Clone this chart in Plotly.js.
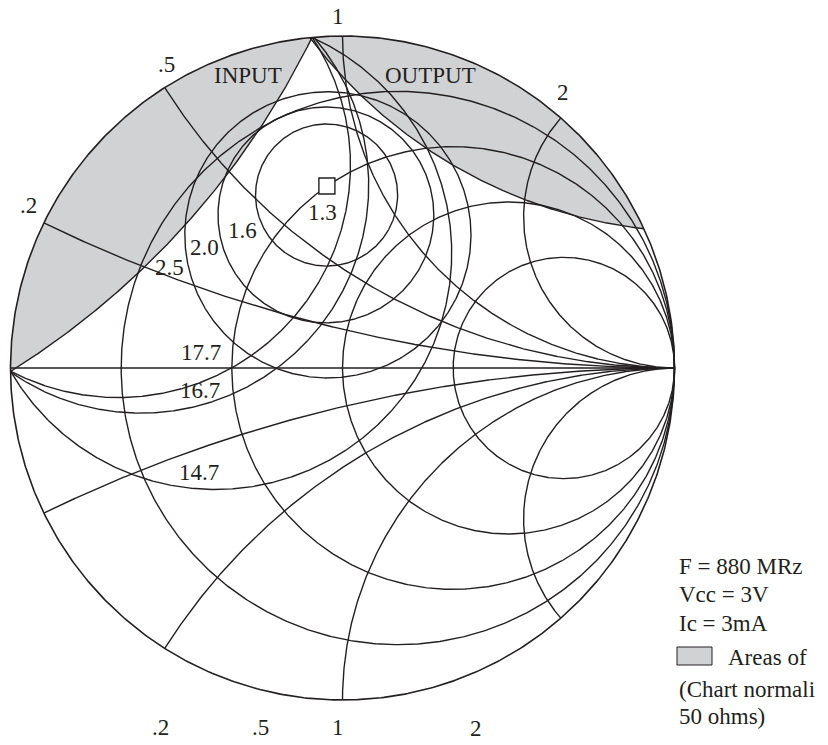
<!DOCTYPE html>
<html><head><meta charset="utf-8">
<script src="https://cdn.plot.ly/plotly-3.0.1.min.js"></script>
<style>html,body{margin:0;padding:0;background:#fff;overflow:hidden}</style>
</head><body><div id="chart" style="width:828px;height:745px"></div>
<script>
// ---- data (reflection-coefficient plane) ----
const resistanceValues = [0.2, 0.5, 1, 2];
const resistanceLabels = ['.2', '.5', '1', '2'];
const reactanceValues = [0.23, 0.55, 1, 2.2];     // arcs as drawn in the figure
const reactanceLabels = ['.2', '.5', '1', '2'];
const noiseLabels = ['1.6', '2.0', '2.5'];
const noiseCenterRe = [-0.048, -0.050, -0.044];
const noiseCenterIm = [0.521, 0.461, 0.401];
const noiseRadius = [0.214, 0.325, 0.431];
const nfMinLabel = '1.3';
const gammaOptRe = [-0.047];
const gammaOptIm = [0.548];
const gainLabels = ['17.7', '16.7', '14.7'];
const gainCenterRe = [-0.676, -0.607, -0.383];
const gainCenterIm = [0.611, 0.550, 0.346];
const gainRadius = [0.700, 0.686, 0.712];
const stabilityLabels = ['INPUT', 'OUTPUT'];
const stabilityCenterRe = [-2.309, 1.074];
const stabilityCenterIm = [2.084, 1.877];
const stabilityRadius = [2.47, 1.467];
const infoLines = ['F = 880 MRz', 'Vcc = 3V', 'Ic = 3mA'];
const legendText = 'Areas of';
const noteLines = ['(Chart normali', '50 ohms)'];

// ---- geometry helpers ----
const INK = '#231f20', GRAY = 'rgb(209,210,212)';
const CX = 342.5, CY = 368, RP = 332;           // chart centre / radius in page pixels
const gx = px => (px - CX) / RP, gy = py => (CY - py) / RP;

function intersections(c1x, c1y, r1, c2x, c2y, r2) {
  const dx = c2x - c1x, dy = c2y - c1y, d = Math.hypot(dx, dy);
  if (d >= r1 + r2 || d <= Math.abs(r1 - r2)) return null;
  const a = (r1 * r1 - r2 * r2 + d * d) / (2 * d);
  const h = Math.sqrt(Math.max(0, r1 * r1 - a * a));
  const px = c1x + a * dx / d, py = c1y + a * dy / d;
  return [[px - h * dy / d, py + h * dx / d], [px + h * dy / d, py - h * dx / d]];
}
// points of circle 1 that lie inside circle 2 (ccw around circle 1)
function arcInside(c1x, c1y, r1, c2x, c2y, r2, n) {
  n = n || 700;
  const pts = intersections(c1x, c1y, r1, c2x, c2y, r2);
  let a0 = 0, a1 = 2 * Math.PI;
  if (pts) {
    const p = pts.map(q => Math.atan2(q[1] - c1y, q[0] - c1x));
    let s = p[0], e = p[1];
    if (e <= s) e += 2 * Math.PI;
    const m = (s + e) / 2;
    const mx = c1x + r1 * Math.cos(m), my = c1y + r1 * Math.sin(m);
    if (Math.hypot(mx - c2x, my - c2y) <= r2) { a0 = s; a1 = e; }
    else { a0 = e; a1 = s + 2 * Math.PI; }
  }
  const x = [], y = [];
  for (let i = 0; i <= n; i++) {
    const t = a0 + (a1 - a0) * i / n;
    x.push(c1x + r1 * Math.cos(t)); y.push(c1y + r1 * Math.sin(t));
  }
  return {x, y};
}
const lineStyle = w => ({color: INK, width: w || 1.4});
const traces = [];
function addCircle(cx, cy, r, w) {
  const a = arcInside(cx, cy, r, 0, 0, 1.0000001);
  traces.push({type: 'scatter', mode: 'lines', x: a.x, y: a.y, line: lineStyle(w), hoverinfo: 'skip'});
}

// shaded instability areas: intersection of stability disk and unit disk
for (let k = 0; k < stabilityLabels.length; k++) {
  const cx = stabilityCenterRe[k], cy = stabilityCenterIm[k], r = stabilityRadius[k];
  const A = arcInside(cx, cy, r, 0, 0, 1);
  const B = arcInside(0, 0, 1, cx, cy, r);
  let bx = B.x.slice(), by = B.y.slice();
  const endA = [A.x[A.x.length - 1], A.y[A.y.length - 1]];
  if (Math.hypot(bx[0] - endA[0], by[0] - endA[1]) > Math.hypot(bx[bx.length - 1] - endA[0], by[by.length - 1] - endA[1])) {
    bx.reverse(); by.reverse();
  }
  traces.push({type: 'scatter', mode: 'lines', x: A.x.concat(bx), y: A.y.concat(by),
    fill: 'toself', fillcolor: GRAY, line: {width: 0}, hoverinfo: 'skip'});
}
// chart boundary and real axis
addCircle(0, 0, 1, 1.6);
traces.push({type: 'scatter', mode: 'lines', x: [-1, 1], y: [0, 0], line: lineStyle(), hoverinfo: 'skip'});
// constant resistance circles
resistanceValues.forEach(r => addCircle(r / (1 + r), 0, 1 / (1 + r)));
// constant reactance arcs (+jx and -jx)
reactanceValues.forEach(x => { addCircle(1, 1 / x, 1 / x); addCircle(1, -1 / x, 1 / x); });
// stability circles
for (let k = 0; k < stabilityLabels.length; k++) addCircle(stabilityCenterRe[k], stabilityCenterIm[k], stabilityRadius[k]);
// available gain circles
for (let k = 0; k < gainLabels.length; k++) addCircle(gainCenterRe[k], gainCenterIm[k], gainRadius[k]);
// noise figure circles
for (let k = 0; k < noiseLabels.length; k++) addCircle(noiseCenterRe[k], noiseCenterIm[k], noiseRadius[k]);
// optimum source point (minimum noise figure)
traces.push({type: 'scatter', mode: 'markers', x: gammaOptRe, y: gammaOptIm,
  marker: {symbol: 'square', size: 16, color: '#ffffff', line: {color: INK, width: 1.4}}, hoverinfo: 'skip'});

// ---- text ----
const F = {family: 'Liberation Serif, Times New Roman, serif', size: 23, color: INK};
const ann = (t, px, py, xa) => ({text: t, x: gx(px), y: gy(py), xref: 'x', yref: 'y', showarrow: false,
  font: F, xanchor: xa || 'center', yanchor: 'middle'});
const annotations = [];
const topLabelPos = [[28, 205], [166, 64], [338, 16], [563, 92]];
reactanceLabels.forEach((t, i) => annotations.push(ann(t, topLabelPos[i][0], topLabelPos[i][1])));
const bottomLabelPos = [[160, 727], [260, 727], [338, 727], [476, 728]];
resistanceLabels.forEach((t, i) => annotations.push(ann(t, bottomLabelPos[i][0], bottomLabelPos[i][1])));
annotations.push(ann(stabilityLabels[0], 248, 75));
annotations.push(ann(stabilityLabels[1], 430, 75));
annotations.push(ann(nfMinLabel, 322, 212));
const noiseLabelPos = [[242, 230], [204, 247], [169, 267]];
noiseLabels.forEach((t, i) => annotations.push(ann(t, noiseLabelPos[i][0], noiseLabelPos[i][1])));
const gainLabelPos = [[201, 352], [200, 390], [199, 472]];
gainLabels.forEach((t, i) => annotations.push(ann(t, gainLabelPos[i][0], gainLabelPos[i][1])));
const infoY = [566, 594, 623];
infoLines.forEach((t, i) => annotations.push(ann(t, 677, infoY[i], 'left')));
annotations.push(ann(legendText, 726, 657, 'left'));
const noteY = [689, 716];
noteLines.forEach((t, i) => annotations.push(ann(t, 677, noteY[i], 'left')));

const layout = {
  width: 828, height: 745, margin: {l: 0, r: 0, t: 0, b: 0},
  paper_bgcolor: '#fff', plot_bgcolor: '#fff', showlegend: false,
  xaxis: {range: [gx(0), gx(828)], visible: false, fixedrange: true},
  yaxis: {range: [gy(745), gy(0)], visible: false, fixedrange: true},
  annotations: annotations,
  shapes: [{type: 'rect', xref: 'x', yref: 'y', x0: gx(677), x1: gx(712), y0: gy(647), y1: gy(665),
    fillcolor: GRAY, line: {color: INK, width: 1}}]
};
Plotly.newPlot('chart', traces, layout, {staticPlot: true, displayModeBar: false});
</script></body></html>
